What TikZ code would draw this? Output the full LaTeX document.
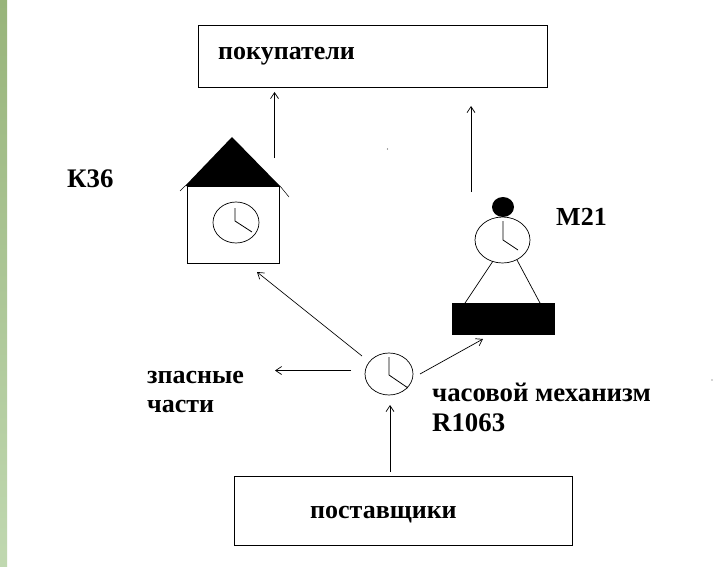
\documentclass[tikz,border=0pt]{standalone}
\usepackage{fontspec}
\setmainfont{Liberation Serif}
\usetikzlibrary{arrows.meta,shapes.geometric}
\definecolor{stripa}{RGB}{152,180,122}
\definecolor{stripb}{RGB}{172,198,150}
\definecolor{stripc}{RGB}{192,216,176}
\tikzset{
  lbl/.style={font=\bfseries\fontsize{26}{30}\selectfont,inner sep=0pt,anchor=base west},
  lblw/.style={lbl,font=\bfseries\fontsize{26.8}{30}\selectfont},
  boxn/.style={draw=black,line width=0.9pt,minimum width=#1,inner sep=0pt,anchor=north west},
  dial/.style={draw=black,ellipse,line width=0.7pt,inner sep=0pt},
  flow/.style={line width=0.7pt,-{Straight Barb[length=6pt,width=8pt]}},
  hand/.style={line width=0.8pt}
}
\begin{document}
\begin{tikzpicture}[x=1pt,y=-1pt]
\useasboundingbox (0,0) rectangle (720,567);
\fill[white] (0,0) rectangle (720,567);
\shade[top color=stripa,bottom color=stripc,middle color=stripb] (0,0) rectangle (7,567);
% boxes
\node[boxn=348.5pt,minimum height=62pt] (buyers) at (198,25) {};
\node[lbl] (buyerst) at (218,60) {покупатели};
\node[boxn=338pt,minimum height=69pt] (suppliers) at (233.8,476) {};
\node[lbl] (supplierst) at (310,518) {поставщики};
% house
\draw[line width=0.9pt] (187,186) rectangle (279,263);
\draw[line width=1.8pt] (187.5,186) -- (187.5,263);
\fill[black] (232,137) -- (280,186) -- (185,186) -- cycle;
\draw[line width=0.5pt] (185,186) -- (180,191);
\draw[line width=0.5pt] (280,186) -- (289,197);
\node[dial,minimum width=46pt,minimum height=41pt] (hclock) at (236,222.5) {};
\draw[hand] (235,208) -- (235,221) -- (252,232);
\coordinate (hstart) at (274.5,158);
\coordinate (hend) at (274.5,92);
% person clock
\fill[black] (503,207) ellipse (11 and 10);
\node[dial,minimum width=55pt,minimum height=46pt] (mclock) at (502.5,240) {};
\draw[hand] (503,221) -- (503,240) -- (518,250);
\draw[line width=0.7pt] (493,261) -- (465,303);
\draw[line width=0.7pt] (517,260) -- (540,303);
\fill[black] (452,303) rectangle (555,335);
\coordinate (mstart) at (471,192);
\coordinate (mend) at (471,106);
% central clock
\node[dial,minimum width=48pt,minimum height=42pt] (cclock) at (389,374) {};
\draw[hand] (389,357) -- (389,375) -- (408,388);
\coordinate (hsrc) at (362,356);
\coordinate (pstop) at (257,272);
\coordinate (msrc) at (420,374);
\coordinate (mtop) at (483,339);
\coordinate (ssrc) at (351,370.5);
\coordinate (sp) at (275,370.5);
\coordinate (supsrc) at (390,472);
\coordinate (supend) at (390,405);
% arrows
\draw[flow] (hstart) -- (hend);
\draw[flow] (mstart) -- (mend);
\draw[flow] (hsrc) -- (pstop);
\draw[flow] (msrc) -- (mtop);
\draw[flow] (ssrc) -- (sp);
\draw[flow] (supsrc) -- (supend);
% labels
\node[lblw] (k) at (67,187) {К36};
\node[lbl] (m) at (556,225) {М21};
\node[lbl] (z) at (147,383) {зпасные};
\node[lbl] (c) at (147,412.5) {части};
\node[lblw] (mech) at (432,401) {часовой механизм};
\node[lblw] (r) at (432,431) {R1063};
% specks
\fill[black!70] (387.5,149) circle (0.7);
\fill[black!70] (712,380) circle (0.7);
\end{tikzpicture}
\end{document}
